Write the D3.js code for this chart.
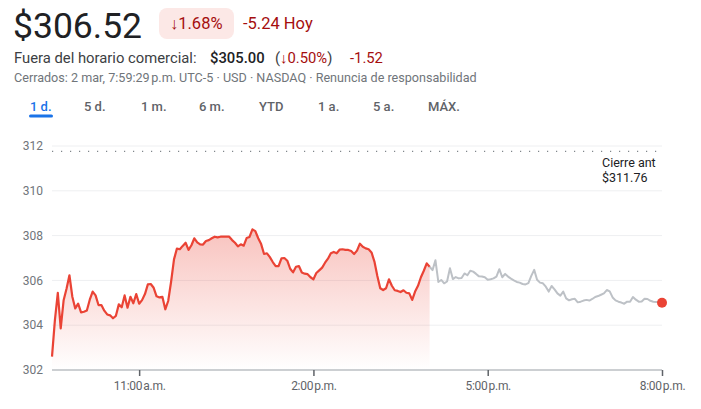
<!DOCTYPE html>
<html>
<head>
<meta charset="utf-8">
<script src="https://cdn.jsdelivr.net/npm/d3@7"></script>
<style>
  body { margin: 0; background: #fff; }
  svg { font-family: Roboto, Arial, sans-serif; display: block; }
  .grid line { stroke: #eeeff1; stroke-width: 1; }
  .ylab { fill: #70757a; font-size: 12px; }
  .xlab { fill: #5f6368; font-size: 12px; letter-spacing: -0.3px; }
  .tab { fill: #5f6368; font-size: 13px; font-weight: 500; }
</style>
</head>
<body>
<svg width="701" height="409"></svg>
<script>
// data: prices every 3 minutes
var day = "2023-03-02";
var stepMinutes = 3;
var regularStart = "09:30";
var afterStart = "16:00";
var sessionEnd = "20:00";
var prevClose = 311.76;
var yTicks = [304, 306, 308, 310, 312];
var yMin = 302, yMax = 312;
var xTickTimes = ["11:00", "14:00", "17:00", "20:00"];
var xTickLabels = ["11:00\u202Fa.m.", "2:00\u202Fp.m.", "5:00\u202Fp.m.", "8:00\u202Fp.m."];
var tabs = ["1 d.", "5 d.", "1 m.", "6 m.", "YTD", "1 a.", "5 a.", "MÁX."];

var regularPrices = [
  302.6, 304.23, 305.44, 303.86, 305.11, 305.63, 306.23, 305.27, 304.75, 304.96,
  304.57, 304.6, 304.66, 305.14, 305.5, 305.33, 304.9, 304.9, 304.65, 304.48,
  304.44, 304.31, 304.42, 304.93, 304.8, 305.33, 304.78, 305.27, 304.98, 305.39,
  304.96, 305.12, 305.39, 305.82, 305.84, 305.67, 305.29, 305.24, 305.27, 304.71,
  305.08, 305.94, 306.94, 307.42, 307.39, 307.54, 307.68, 307.36, 307.57, 307.88,
  307.7, 307.61, 307.6, 307.76, 307.8, 307.88, 307.95, 307.92, 307.95, 307.95,
  307.95, 307.95, 307.8, 307.68, 307.52, 307.61, 307.55, 307.89, 307.94, 308.28,
  308.2, 307.88, 307.62, 307.18, 307.21, 307.04, 306.82, 306.64, 306.64, 306.98,
  307.0, 306.88, 306.52, 306.36, 306.61, 306.64, 306.35, 306.3, 306.28, 306.14,
  306.05, 306.33, 306.45, 306.57, 306.79, 306.97, 307.21, 307.27, 307.21, 307.37,
  307.39, 307.36, 307.36, 307.31, 307.18, 307.33, 307.64, 307.5, 307.43, 307.39,
  307.25, 306.84, 306.2, 305.65, 305.57, 305.65, 306.05, 305.76, 305.56, 305.53,
  305.48, 305.56, 305.45, 305.42, 305.13, 305.5, 305.76, 306.14, 306.43, 306.76,
  306.61
];

var afterPrices = [
  306.61, 306.46, 306.9, 305.93, 306.02, 305.87, 305.95, 306.54, 306.06, 306.15,
  306.09, 306.11, 306.31, 306.23, 306.43, 306.39, 306.29, 306.18, 306.17, 306.14,
  306.03, 306.05, 306.09, 306.17, 306.5, 306.14, 306.29, 306.17, 306.08, 306.0,
  305.93, 305.9, 305.84, 305.82, 305.88, 306.2, 306.47, 306.03, 305.9, 305.87,
  305.72, 305.5, 305.75, 305.6, 305.42, 305.32, 305.5, 305.2, 305.11, 305.16,
  305.18, 305.02, 305.05, 305.1, 305.13, 305.1, 305.17, 305.26, 305.3, 305.36,
  305.42, 305.57, 305.51, 305.24, 305.11, 305.05, 305.01, 304.96, 305.05, 305.05,
  305.26, 305.14, 305.05, 305.06, 305.18, 305.17, 305.09, 305.05, 305.04, 305.04,
  305.0
];

var svg = d3.select("svg");
var parseTime = d3.timeParse("%Y-%m-%d %H:%M");
var t = function(hm) { return parseTime(day + " " + hm); };

function toSeries(start, prices) {
  var t0 = t(start);
  return prices.map(function(p, i) {
    return { time: d3.timeMinute.offset(t0, i * stepMinutes), price: p };
  });
}
var regular = toSeries(regularStart, regularPrices);
var after = toSeries(afterStart, afterPrices);

// scales
var x = d3.scaleTime().domain([t(regularStart), t(sessionEnd)]).range([52, 662]);
var y = d3.scaleLinear().domain([yMin, yMax]).range([370, 146]);

// header
svg.append("text").attr("x", 13).attr("y", 38)
  .style("font-size", "35.5px").attr("fill", "#202124").text("$306.52");
svg.append("rect").attr("x", 159).attr("y", 8).attr("width", 75).attr("height", 31)
  .attr("rx", 8).attr("fill", "#fce8e6");
svg.append("text").attr("x", 170).attr("y", 29)
  .style("font-size", "16.5px").attr("fill", "#a50e0e").text("↓1.68%");
svg.append("text").attr("x", 243).attr("y", 29)
  .style("font-size", "16.5px").attr("fill", "#a50e0e").text("-5.24 Hoy");

svg.append("text").attr("x", 14).attr("y", 63)
  .style("font-size", "14.8px").attr("fill", "#3c4043").text("Fuera del horario comercial:");
svg.append("text").attr("x", 210).attr("y", 63)
  .style("font-size", "14.8px").style("font-weight", 500).attr("fill", "#202124").text("$305.00");
var pct = svg.append("text").attr("x", 275).attr("y", 63).style("font-size", "14.8px");
pct.append("tspan").attr("fill", "#3c4043").text("(");
pct.append("tspan").attr("fill", "#a50e0e").text("↓0.50%");
pct.append("tspan").attr("fill", "#3c4043").text(")");
svg.append("text").attr("x", 350).attr("y", 63)
  .style("font-size", "14.8px").attr("fill", "#a50e0e").text("-1.52");

svg.append("text").attr("x", 14).attr("y", 82)
  .style("font-size", "12.6px").attr("fill", "#70757a")
  .text("Cerrados: 2 mar, 7:59:29\u202Fp.m. UTC-5 · USD · NASDAQ · Renuncia de responsabilidad");

// range tabs
var tabX = [30, 84, 141, 199, 259, 318, 373, 428];
svg.selectAll(".tab").data(tabs).enter().append("text")
  .attr("class", "tab")
  .attr("x", function(d, i) { return tabX[i]; })
  .attr("y", 111)
  .style("fill", function(d, i) { return i === 0 ? "#1a73e8" : null; })
  .text(function(d) { return d; });
svg.append("rect").attr("x", 29).attr("y", 114.5).attr("width", 24).attr("height", 3)
  .attr("rx", 1.5).attr("fill", "#1a73e8");

// gridlines
svg.append("g").attr("class", "grid")
  .selectAll("line").data(yTicks).enter().append("line")
  .attr("x1", 52).attr("x2", 662)
  .attr("y1", function(d) { return y(d); })
  .attr("y2", function(d) { return y(d); });

// y labels
svg.selectAll(".ylab").data([yMin].concat(yTicks)).enter().append("text")
  .attr("class", "ylab")
  .attr("x", 43)
  .attr("y", function(d) { return y(d); })
  .attr("dy", "0.35em")
  .attr("text-anchor", "end")
  .text(function(d) { return d; });

// previous close dotted line
svg.append("line")
  .attr("x1", 52).attr("x2", 662)
  .attr("y1", y(prevClose)).attr("y2", y(prevClose))
  .attr("stroke", "#80868b").attr("stroke-width", 1.2)
  .attr("stroke-dasharray", "1.2,7.8");
svg.append("text").attr("x", 602).attr("y", 167)
  .style("font-size", "12.5px").attr("fill", "#202124").text("Cierre ant");
svg.append("text").attr("x", 602).attr("y", 182)
  .style("font-size", "12.5px").attr("fill", "#202124").text("$" + prevClose.toFixed(2));

// area gradient
var grad = svg.append("defs").append("linearGradient")
  .attr("id", "redfade").attr("x1", 0).attr("y1", 0).attr("x2", 0).attr("y2", 1);
grad.append("stop").attr("offset", "0%").attr("stop-color", "#ea4335").attr("stop-opacity", 0.32);
grad.append("stop").attr("offset", "100%").attr("stop-color", "#ea4335").attr("stop-opacity", 0);

var area = d3.area()
  .x(function(d) { return x(d.time); })
  .y0(y(yMin))
  .y1(function(d) { return y(d.price); });
svg.append("path").datum(regular)
  .attr("fill", "url(#redfade)")
  .attr("d", area);

var line = d3.line()
  .x(function(d) { return x(d.time); })
  .y(function(d) { return y(d.price); });

svg.append("path").datum(after)
  .attr("fill", "none").attr("stroke", "#bdc1c6").attr("stroke-width", 2)
  .attr("stroke-linejoin", "round")
  .attr("d", line);
svg.append("path").datum(regular)
  .attr("fill", "none").attr("stroke", "#ea4335").attr("stroke-width", 2.2)
  .attr("stroke-linejoin", "round")
  .attr("d", line);

// x axis
var xAxis = d3.axisBottom(x)
  .tickValues(xTickTimes.map(t))
  .tickSize(6)
  .tickSizeOuter(0)
  .tickFormat(function(d, i) { return xTickLabels[i]; });
var gx = svg.append("g").attr("transform", "translate(0," + y(yMin) + ")").call(xAxis);
gx.select(".domain").attr("stroke", "#9aa0a6").attr("stroke-width", 1.2).attr("d", "M52,0H662");
gx.selectAll(".tick line").attr("stroke", "#5f6368").attr("stroke-width", 1.5);
gx.selectAll(".tick text").attr("class", "xlab").attr("y", 16).attr("dy", "0.35em")
  .style("font-family", "Roboto, Arial, sans-serif");

// last point
var last = after[after.length - 1];
svg.append("circle")
  .attr("cx", x(last.time)).attr("cy", y(last.price))
  .attr("r", 5).attr("fill", "#ea4335");
</script>
</body>
</html>
